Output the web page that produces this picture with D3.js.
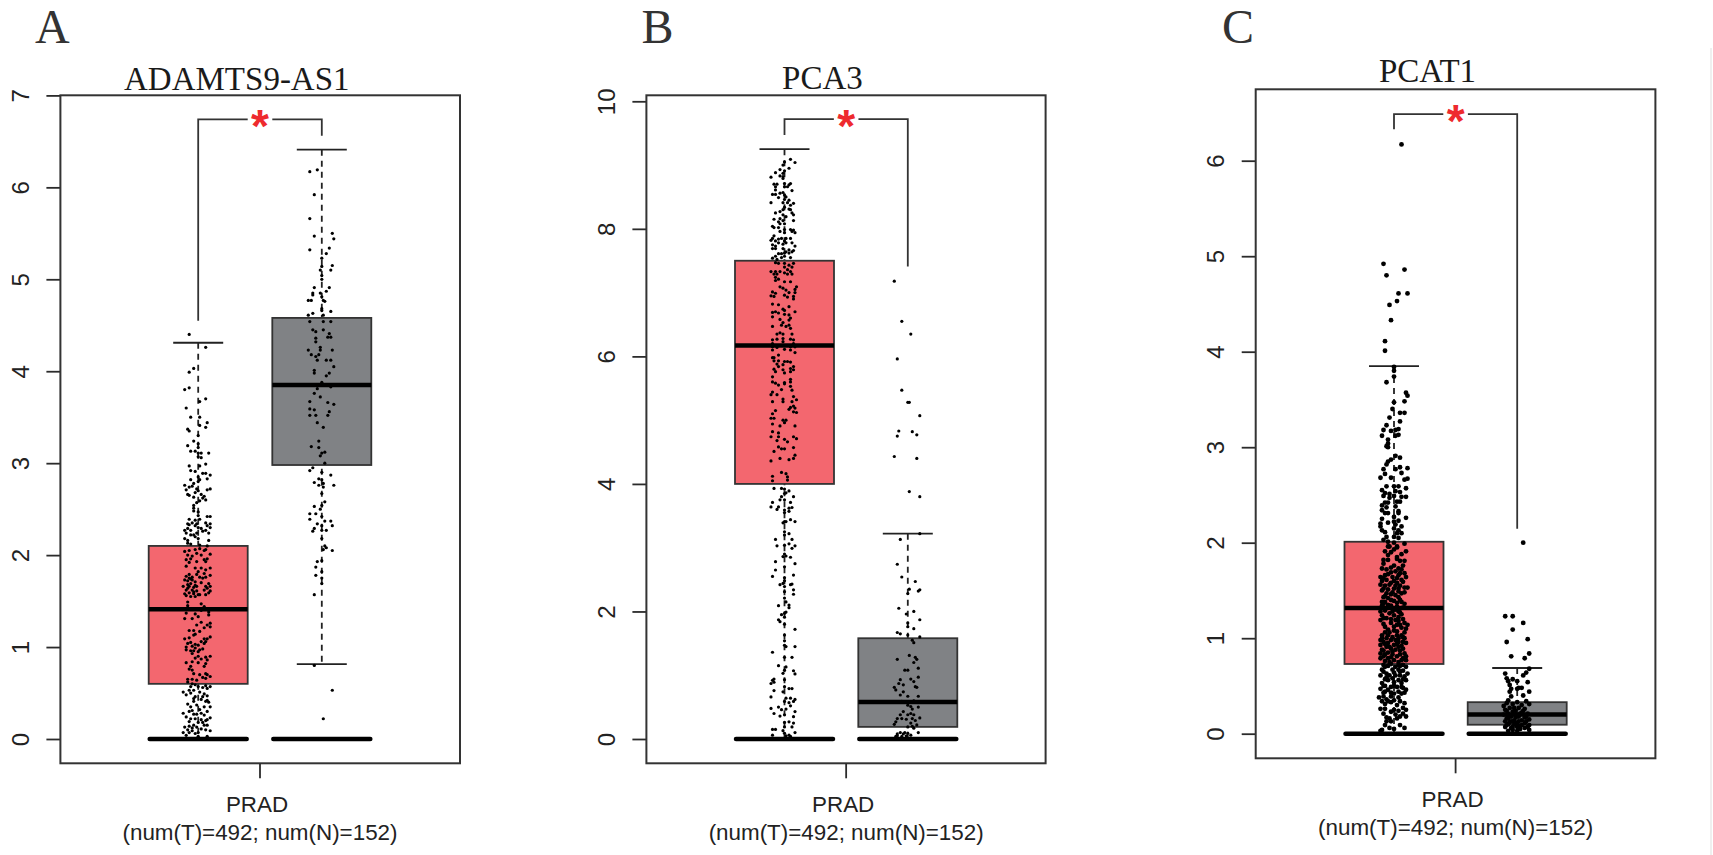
<!DOCTYPE html>
<html>
<head>
<meta charset="utf-8">
<title>PRAD boxplots</title>
<script src="https://cdn.jsdelivr.net/npm/d3@7"></script>
<style>
html, body { margin: 0; padding: 0; background: #fff; overflow: hidden; }
svg { display: block; }
</style>
</head>
<body>
<div id="chart"></div>
<script>
var svgWidth = 1713;
var svgHeight = 855;

var groups = ["T", "N"];
var categoryLabel = "PRAD";
var sampleLabel = "(num(T)=492; num(N)=152)";

// box stats per group: low whisker, q1, median, q3, high whisker
var adamtsBoxes = [[0, 0.60, 1.41, 2.10, 4.31], [0.815, 2.98, 3.85, 4.58, 6.41]];
var pca3Boxes = [[0, 4.00, 6.17, 7.50, 9.25], [0, 0.19, 0.58, 1.58, 3.22]];
var pcat1Boxes = [[0, 0.73, 1.316, 2.01, 3.85], [0, 0.094, 0.20, 0.33, 0.688]];

// bracket: top, end over T, end over N
var adamtsBracket = [6.74, 4.55, 6.56];
var pca3Bracket = [9.72, 9.47, 7.41];
var pcat1Bracket = [6.487, 6.33, 2.146];

var adamtsTicks = [0, 1, 2, 3, 4, 5, 6, 7];
var pca3Ticks = [0, 2, 4, 6, 8, 10];
var pcat1Ticks = [0, 1, 2, 3, 4, 5, 6];

// jittered samples: [jitter (-10..10), expression]
var adamtsT = [[-6,4.40],[5,4.26],[-6,3.99],[-3,4.03],[-9,3.80],[-6,3.82],[5,3.70],[1,3.67],[-8,3.60],[-5,3.50],[1,3.50],[6,3.44],[1,3.41],[5,3.39],[-7,3.37],[-6,3.35],[0,3.30],
[-3,3.24],[0,3.21],[-7,3.19],[0,3.17],[-5,3.13],[-2,3.13],[7,3.11],[0,3.11],[2,3.11],[0,3.07],[2,3.06],[-6,2.97],[5,2.99],[1,2.97],[-5,2.92],[-2,2.91],[3,2.89],[5,2.89],[8,2.87],[0,2.85],[6,2.83],[-5,2.82],[1,2.82],[0,2.80],[-3,2.78],[-9,2.76],[-6,2.74],[8,2.72],[6,2.71],[-8,2.71],[0,2.70],[-2,2.68],[2,2.66],[-6,2.65],[4,2.64],[-3,2.63],[5,2.60],[1,2.59],[-1,2.57],[-3,2.54],[-3,2.51],[-3,2.48],[0,2.47],[0,2.43],[6,2.42],[8,2.42],[-6,2.39],[-2,2.38],[1,2.39],[-4,2.35],[-1,2.34],[5,2.35],[8,2.34],[-6,2.33],[-2,2.32],[0,2.30],[6,2.32],[-7,2.29],[2,2.29],[-9,2.27],[-5,2.27],[8,2.30],[5,2.27],[-1,2.24],[-8,2.24],[-5,2.22],[7,2.24],[-2,2.20],[0,2.18],[-9,2.18],[-7,2.16],[7,2.16],[-7,2.13],[-5,2.12],[1,2.11],[6,2.10],
[-9,2.04],[-6,2.05],[-2,2.06],[1,2.07],[4,2.05],[5,2.06],[-7,2.00],[-4,1.99],[-1,2.02],[2,2.00],[8,2.01],[6,1.96],[4,1.95],[-8,1.95],[-5,1.96],[-6,1.92],[-1,1.93],[5,1.93],[-8,1.88],[-2,1.86],[2,1.86],[8,1.86],[5,1.84],[0,1.82],[4,1.80],[8,1.78],[-8,1.77],[-6,1.79],[-4,1.76],[1,1.76],[5,1.76],[-9,1.73],[-6,1.75],[-4,1.73],[-2,1.71],[-7,1.68],[-5,1.69],[-2,1.67],[7,1.69],[8,1.66],[-10,1.66],[-6,1.66],[-1,1.66],[5,1.66],[6,1.64],[-8,1.62],[-4,1.62],[-1,1.61],[4,1.62],[8,1.61],[-6,1.59],[-3,1.58],[7,1.59],[-9,1.58],[1,1.57],[5,1.57],[-5,1.55],[-2,1.55],[-7,1.49],[2,1.47],[4,1.44],[-7,1.45],[7,1.38],[2,1.40],
[-8,1.37],[-2,1.36],[-9,1.31],[-4,1.31],[0,1.33],[7,1.35],[8,1.26],[2,1.27],[-1,1.24],[6,1.24],[8,1.22],[4,1.21],[-6,1.18],[-3,1.18],[1,1.17],[-2,1.14],[8,1.11],[-9,1.09],[-6,1.10],[-3,1.13],[4,1.09],[6,1.09],[-7,1.04],[2,1.06],[4,1.04],[5,1.06],[-8,1.00],[-4,1.01],[-2,0.99],[1,0.97],[3,0.98],[-5,0.96],[-3,0.96],[0,0.95],[-8,0.97],[0,0.90],[5,0.89],[8,0.90],[-2,0.88],[2,0.87],[6,0.86],[-4,0.84],[-8,0.83],[0,0.83],[5,0.82],[-5,0.79],[4,0.79],[-6,0.76],[-4,0.75],[-3,0.71],[5,0.71],[8,0.68],[1,0.70],[3,0.67],[6,0.70],[-7,0.65],[-4,0.65],[-1,0.64],[5,0.66],
[-2,0.59],[-5,0.57],[5,0.58],[8,0.57],[0,0.57],[-6,0.53],[6,0.55],[-10,0.51],[-3,0.53],[1,0.51],[-8,0.48],[4,0.49],[6,0.47],[-2,0.46],[2,0.43],[-3,0.41],[5,0.41],[6,0.42],[-1,0.37],[8,0.35],[-5,0.35],[4,0.35],[1,0.32],[-4,0.31],[-10,0.28],[-6,0.30],[6,0.30],[-1,0.27],[4,0.26],[-8,0.24],[-5,0.22],[-2,0.22],[2,0.21],[6,0.21],[8,0.23],[5,0.20],[0,0.18],[-9,0.13],[-6,0.14],[-3,0.15],[4,0.15],[6,0.15],[-7,0.10],[-4,0.12],[-1,0.13],[8,0.09],[-10,0.07],[-6,0.07],[-2,0.06],[0,0.07],[5,0.10],[-8,0.04],[0,0.03],[6,0.03],
[-7,1.64],[-3,1.65],[2,1.70],[-7,1.72],[-3,1.60],[0,1.57],[-5,1.74],[3,1.75],[-8,1.56],[-1,1.79],[-5,1.05],[-2,1.03],[0,1.02],[-4,0.93],[-7,0.62],[-4,0.60],[3,0.56],[-5,0.50],[3,0.46],[-3,0.44],[7,0.40],[-7,0.38],[2,0.28],[-3,0.27],[-6,0.19],[3,0.18],[-4,0.09],[2,0.11],[-7,2.34],[3,2.26],[-3,2.22],[-4,2.75],[-1,2.72],[3,2.62],[-7,2.66]];

var adamtsN = [[-8,6.17],[-3,6.19],[-5,5.92],[-8,5.66],[-5,5.47],[7,5.50],[8,5.44],[5,5.34],[3,5.28],[-8,5.32],[0,5.23],[0,5.14],[7,5.15],[-1,5.10],[6,5.10],[0,5.04],[0,5.00],[-5,4.91],[5,4.91],[-6,4.85],[-1,4.85],[3,4.87],[0,4.81],[-6,4.83],[1,4.77],[-9,4.77],[-7,4.77],[2,4.76],[0,4.68],[0,4.66],[6,4.65],[-6,4.63],[-9,4.61],[1,4.61],
[-8,4.54],[1,4.54],[6,4.54],[-6,4.45],[-4,4.43],[1,4.45],[5,4.41],[4,4.37],[6,4.37],[-4,4.36],[-4,4.32],[-1,4.26],[-1,4.23],[-9,4.23],[7,4.23],[-7,4.18],[-2,4.18],[-4,4.16],[-3,4.12],[3,4.12],[6,4.12],[8,4.05],[-5,4.01],[5,3.98],[3,3.95],[-5,3.98],[0,3.88],[6,3.83],[-3,3.81],[-5,3.76],[-1,3.72],[-8,3.67],[4,3.66],[8,3.64],[-8,3.59],[-5,3.58],[5,3.56],[-8,3.52],[-4,3.52],[4,3.52],[-3,3.44],[1,3.39],
[-2,3.24],[-7,3.18],[-2,3.17],[2,3.12],[0,3.11],[-1,3.08],[2,3.00],[-6,2.95],[-8,2.92],[0,2.90],[6,2.87],[-2,2.83],[0,2.82],[-5,2.79],[8,2.76],[1,2.78],[-2,2.76],[1,2.74],[0,2.67],[2,2.58],[0,2.54],[-5,2.53],[-1,2.50],[-8,2.45],[-4,2.45],[0,2.42],[-8,2.39],[2,2.37],[6,2.37],[-3,2.34],[0,2.32],[7,2.32],[-5,2.29],[3,2.27],[-6,2.26],[0,2.27],[0,2.18],[2,2.10],[3,2.08],[1,2.06],[7,2.05],[-3,1.93],[0,1.94],[-4,1.87],[0,1.82],[-4,1.78],[0,1.75],[0,1.69],[-5,1.57],[-5,0.80],[7,0.53],[1,0.22]];

var pca3T = [[4,9.09],[7,9.04],[0,9.05],[-1,9.00],[3,8.95],[0,8.91],[-3,8.93],[-6,8.88],[-1,8.87],[-3,8.83],[-1,8.82],[-9,8.81],[-1,8.79],[-7,8.70],[-5,8.70],[0,8.71],[3,8.69],[4,8.71],[-6,8.66],[0,8.66],[2,8.66],[-6,8.61],[5,8.60],[-1,8.57],[-8,8.54],[-6,8.54],[-3,8.56],[0,8.53],[-4,8.49],[1,8.50],[0,8.46],[3,8.45],[-9,8.41],[-1,8.41],[2,8.41],[6,8.40],[4,8.37],[0,8.34],[3,8.31],[-1,8.30],[4,8.30],[-6,8.25],[-3,8.27],[5,8.25],[6,8.22],[-1,8.22],[1,8.19],[-3,8.16],[-7,8.15],[6,8.13],[-4,8.11],[-1,8.13],[0,8.08],[-3,8.08],[-8,8.04],[-4,8.02],[-7,8.02],[0,7.99],[4,7.99],[6,7.98],[-3,7.96],[5,7.96],[7,7.94],[0,7.94],[-7,7.89],[-8,7.85],[-4,7.84],[-2,7.85],[1,7.85],[4,7.85],[-9,7.82],[-6,7.81],[0,7.81],[-4,7.78],[1,7.78],[5,7.78],[-8,7.75],[-1,7.76],[-6,7.73],[7,7.73],[-8,7.69],[-6,7.69],[-1,7.69],[3,7.67],[6,7.66],[1,7.64],[5,7.64],[0,7.62],[-2,7.61],[3,7.62],[-4,7.61],[-6,7.57],[0,7.57],[-8,7.54],[-2,7.55],[4,7.55],[-5,7.52],
[-6,7.47],[0,7.46],[6,7.46],[3,7.43],[-4,7.46],[0,7.40],[5,7.40],[2,7.36],[-9,7.33],[-6,7.33],[-3,7.33],[4,7.33],[0,7.31],[-7,7.29],[-5,7.29],[2,7.29],[5,7.29],[-6,7.24],[-4,7.21],[-6,7.19],[0,7.17],[4,7.17],[-3,7.09],[-1,7.07],[8,7.09],[1,7.04],[7,7.05],[-8,7.01],[-6,6.99],[3,7.00],[7,7.00],[-9,6.95],[0,6.96],[6,6.94],[-7,6.94],[2,6.93],[6,6.90],[-8,6.82],[-4,6.81],[3,6.78],[-1,6.74],[0,6.72],[-8,6.69],[-6,6.70],[-4,6.68],[7,6.70],[0,6.66],[3,6.65],[-8,6.62],[4,6.60],[-3,6.58],[3,6.57],[-1,6.53],[3,6.49],[-2,6.49],[-8,6.47],[1,6.47],[4,6.44],[-3,6.37],[-5,6.35],[-1,6.35],[5,6.35],[-8,6.26],[-1,6.28],[-5,6.27],[4,6.27],[6,6.26],[-8,6.20],[-1,6.23],[6,6.20],[-8,6.15],[-5,6.14],[4,6.15],[7,6.15],[0,6.11],[-8,6.10],[4,6.10],[7,6.06],[-4,6.02],[-8,5.98],[-7,5.98],[-7,5.93],[-4,5.93],[0,5.92],[2,5.92],[4,5.91],[-5,5.88],[-1,5.87],[-4,5.84],[6,5.84],[4,5.81],[-7,5.80],[-1,5.79],[6,5.79],[-6,5.76],[4,5.76],[0,5.74],[-8,5.68],[4,5.64],[-8,5.60],[-6,5.58],[0,5.59],[4,5.60],[-4,5.55],[-2,5.48],[4,5.53],[5,5.47],[0,5.57],[-8,5.44],[-9,5.40],[-5,5.40],[-1,5.33],[6,5.37],[8,5.32],[-8,5.29],[-1,5.29],[5,5.29],[6,5.22],[4,5.20],[3,5.17],[7,5.19],[-6,5.15],[6,5.13],[8,5.12],[-8,5.10],[-9,5.03],[-7,5.03],[-1,5.00],[1,5.00],[-8,4.94],[-3,4.91],[0,4.96],[7,4.91],[-4,4.80],[-8,4.82],[-9,4.74],[-4,4.74],[6,4.74],[8,4.71],[-5,4.68],[0,4.70],[2,4.66],[-4,4.58],[-2,4.55],[0,4.55],[6,4.57],
[-7,4.51],[7,4.45],[6,4.40],[3,4.38],[-3,4.40],[-9,4.36],[-2,4.18],[1,4.16],[-8,4.12],[2,4.11],[-8,4.05],[2,4.06],
[-7,3.93],[-2,3.93],[0,3.92],[3,3.89],[1,3.86],[0,3.85],[6,3.80],[-2,3.80],[-3,3.75],[0,3.75],[-8,3.71],[4,3.71],[-4,3.64],[-9,3.64],[0,3.59],[5,3.63],[3,3.62],[-5,3.60],[3,3.57],[0,3.55],[4,3.44],[0,3.41],[1,3.41],[-1,3.39],[7,3.41],[0,3.25],[3,3.22],[0,3.20],[-6,3.13],[5,3.13],[0,3.04],[3,3.06],[-5,3.03],[7,3.03],[5,2.99],[0,2.90],[1,2.87],[-1,2.86],[4,2.85],[-6,2.78],[7,2.75],[0,2.70],[-6,2.65],[6,2.57],[-8,2.55],[0,2.53],[0,2.48],[-1,2.44],[-3,2.42],[4,2.42],[5,2.43],[0,2.39],[6,2.34],[0,2.31],[6,2.27],
[0,2.21],[1,2.15],[-4,2.09],[3,2.10],[3,2.06],[1,1.99],[0,1.97],[-2,1.95],[-4,1.87],[-3,1.84],[0,1.91],[0,1.80],[7,1.72],[0,1.63],[0,1.54],[0,1.47],[1,1.45],[7,1.45],[-8,1.36],[0,1.28],[5,1.28],[-4,1.15],[1,1.13],[0,1.08],[6,1.07],[-1,1.03],[7,1.02],[-7,0.94],[-8,0.92],[-7,0.89],[-9,0.87],[0,0.93],[0,0.82],[3,0.79],[5,0.79],[-7,0.76],[-1,0.74],[-9,0.66],[1,0.64],[4,0.64],[7,0.62],[0,0.59],[6,0.59],[3,0.57],[4,0.52],[-9,0.48],[-4,0.50],[-2,0.46],[1,0.47],[7,0.43],[-7,0.40],[-3,0.36],[0,0.38],[6,0.35],[0,0.26],[3,0.27],[6,0.25],[5,0.19],[0,0.19],[-8,0.15],[-6,0.15],[-1,0.13],[7,0.10],[0,0.09],[-8,0.06],[3,0.06],[1,0.05],[4,0.04]];

var pca3N = [[-9,7.18],[-4,6.55],[2,6.35],[-7,5.96],[-4,5.47],[0,5.28],[1,5.28],[8,5.07],[-6,4.83],[-7,4.75],[3,4.82],[6,4.77],[-9,4.43],[6,4.40],[1,3.88],[8,3.80],[-5,3.13],[8,3.22],[-7,2.74],[-4,2.54],[5,2.47],[1,2.35],[8,2.34],[7,2.32],[0,2.28],[-6,2.05],[4,2.00],[-1,1.96],[8,1.87],[0,1.82],[0,1.76],[4,1.73],[-7,1.67],[-5,1.65],[0,1.63],[8,1.60],[3,1.55],[4,1.51],[1,1.31],[-7,1.25],[5,1.28],[6,1.25],[4,1.20],[-2,1.08],[0,1.08],[7,1.11],[-5,0.93],[-3,0.85],[2,0.94],[7,0.97],[-6,0.87],[4,0.90],[-3,0.74],[-9,0.81],[-8,0.77],[5,0.82],[6,0.81],[-5,0.69],[0,0.67],[7,0.67],[-4,0.59],[4,0.60],[0,0.53],[2,0.51],[7,0.50],[3,0.47],[-3,0.43],[2,0.40],[-5,0.38],[0,0.38],[4,0.38],[-7,0.32],[-4,0.32],[-1,0.31],[3,0.32],[8,0.33],[-8,0.27],[-9,0.23],[5,0.29],[2,0.25],[3,0.20],[0,0.19],[6,0.22],[4,0.17],[-5,0.10],[-2,0.10],[0,0.09],[-7,0.08],[-3,0.08],[7,0.10],[-7,0.05],[-1,0.05],[-4,0.04],[-8,0.04],[2,0.06]];

var pcat1T = [[5,6.17],[-7,4.92],[-5,4.80],[7,4.86],[3,4.61],[9,4.61],[2,4.53],[-3,4.49],[-2,4.33],[-6,4.11],[-6,4.01],
[0,3.84],[0,3.80],[0,3.74],[-5,3.68],[8,3.57],[9,3.54],[0,3.47],[7,3.48],[-1,3.40],[4,3.36],[7,3.36],[-3,3.31],[4,3.27],[-5,3.23],[-7,3.18],[-2,3.17],[1,3.18],[3,3.19],[-8,3.12],[1,3.12],[3,3.13],[-4,3.08],[-4,3.04],[-5,3.01],[-4,3.00],[1,2.91],[4,2.89],[-2,2.87],[-4,2.85],[-5,2.82],[-7,2.77],[1,2.77],[4,2.79],[9,2.78],[-6,2.72],[5,2.73],[-9,2.68],[-2,2.68],[7,2.66],[9,2.67],[0,2.59],[3,2.59],[-5,2.59],[8,2.57],[-8,2.55],[1,2.54],[4,2.53],[-6,2.52],[-3,2.51],[-7,2.49],[0,2.49],[5,2.48],[8,2.48],[-3,2.47],[-6,2.42],[2,2.43],[4,2.43],[-4,2.42],[-8,2.39],[1,2.38],[-5,2.37],[-8,2.34],[3,2.33],[-6,2.31],[3,2.31],[-4,2.31],[0,2.27],[8,2.26],[-8,2.25],[-9,2.20],[-4,2.21],[0,2.22],[3,2.23],[1,2.19],[5,2.17],[-9,2.17],[0,2.15],[3,2.13],[-8,2.13],[-6,2.11],[5,2.10],[2,2.10],[-5,2.06],[0,2.06],[-7,2.03],[3,2.05],[-4,2.01],[7,1.99],[0,2.00],[-3,1.96],[2,1.96],
[-4,1.96],[2,1.95],[8,1.91],[-6,1.91],[0,1.93],[-4,1.87],[4,1.81],[7,1.81],[-7,1.82],[-4,1.82],[2,1.83],[-8,1.73],[-2,1.74],[3,1.73],[5,1.72],[-5,1.72],[1,1.70],[7,1.68],[-9,1.64],[-6,1.66],[-4,1.67],[-1,1.64],[3,1.66],[8,1.64],[-8,1.60],[-5,1.61],[0,1.60],[2,1.58],[5,1.61],[-9,1.56],[-2,1.58],[-6,1.55],[4,1.55],[7,1.53],[9,1.53],[-8,1.50],[-4,1.51],[0,1.52],[3,1.49],[-5,1.47],[-2,1.46],[5,1.47],[-7,1.43],[1,1.45],[-4,1.42],[3,1.43],[-8,1.38],[-6,1.38],[0,1.39],[5,1.38],[2,1.37],[-4,1.35],[-2,1.34],[7,1.36],[-8,1.34],[-6,1.29],[1,1.30],[3,1.28],[-9,1.28],[-3,1.26],[-8,1.24],[0,1.24],[5,1.25],[3,1.22],[-5,1.21],[1,1.19],[-9,1.19],[7,1.16],[9,1.14],[2,1.14],[4,1.14],[-2,1.16],[-6,1.12],[-4,1.09],[0,1.08],[7,1.06],[-6,1.06],[-8,1.03],[-4,1.03],[2,1.03],[5,1.03],[-5,1.00],[7,1.00],[-9,0.98],[-2,0.98],[1,0.98],[3,0.96],[-7,0.96],[-4,0.95],[6,0.96],[8,0.95],[-9,0.93],[0,0.93],[-5,0.91],[3,0.91],[-2,0.89],[-8,0.88],[1,0.88],[6,0.89],[-9,0.84],[-4,0.85],[-6,0.83],[-1,0.83],[4,0.83],[7,0.84],[2,0.81],[-9,0.79],[-4,0.79],[6,0.79],[8,0.77],[0,0.77],[-6,0.76],[3,0.75],[-3,0.75],
[-6,0.70],[-4,0.71],[1,0.70],[4,0.71],[8,0.70],[-8,0.67],[-1,0.67],[3,0.67],[6,0.66],[-5,0.63],[9,0.63],[-9,0.61],[-3,0.61],[1,0.61],[4,0.61],[7,0.60],[-6,0.57],[-4,0.56],[3,0.56],[8,0.56],[-8,0.53],[0,0.54],[5,0.53],[-6,0.50],[-2,0.49],[2,0.49],[-9,0.47],[6,0.48],[8,0.46],[-4,0.46],[-6,0.44],[3,0.44],[0,0.42],[5,0.42],[-10,0.38],[-7,0.39],[-2,0.39],[3,0.38],[-5,0.36],[0,0.35],[-8,0.34],[-2,0.33],[7,0.32],[-6,0.31],[2,0.30],[-9,0.26],[8,0.25],[0,0.25],[3,0.24],[-7,0.21],[1,0.20],[6,0.21],[8,0.18],[4,0.18],[-3,0.16],[-5,0.13],[-2,0.13],[4,0.09],[-6,0.09],[7,0.06],[-3,0.06],[-8,0.04],[0,0.05],[-9,0.03],
[-2,1.90],[5,1.88],[2,1.85],[-7,1.78],[0,1.76],[6,1.76],[-2,1.69],[4,1.68],[-7,1.63],[2,1.63],[6,1.59],[-3,1.56],[1,1.55],[-7,1.52],[3,1.52],[-1,1.48],[7,1.48],[-6,1.44],[4,1.40],[-2,1.40],[-7,1.36],[2,1.33],[6,1.32],[-1,1.28],[4,1.27],[-7,1.21],[-2,1.20],[3,1.18],[6,1.20],[-7,1.15],[0,1.12],[5,1.11],[-3,1.06],[2,1.07],[8,1.10],[-8,1.00],[-1,1.01],[3,1.00],[6,1.01],[-6,0.94],[-3,0.91],[2,0.94],[5,0.92],[-7,0.87],[-1,0.86],[4,0.87],[-7,0.81],[-2,0.80],[5,0.77],[8,0.81],[-7,0.72],[-2,0.73],[3,0.72],[6,0.72],[-7,0.65],[0,0.64],[4,0.65],[-5,0.59],[-1,0.58],[6,0.57],[-7,0.50],[0,0.50],[5,0.49],[-7,0.43],[-2,0.43],[7,0.43],[-4,0.34],[4,0.34],[-6,0.26],[-2,0.23],[6,0.27],[-5,0.17],[2,0.16]];

var pcat1N = [[4,2.00],[-8,1.23],[-3,1.23],[4,1.16],[-3,1.09],[7,0.99],[-7,0.96],[8,0.84],[-4,0.81],[5,0.79],[8,0.68],[6,0.64],[-8,0.63],[4,0.61],[-7,0.58],[-3,0.57],[-6,0.55],[0,0.55],[7,0.54],[-5,0.51],[3,0.48],[-4,0.47],[0,0.47],[8,0.44],[-5,0.44],[1,0.48],[4,0.40],[-4,0.39],[-6,0.35],[6,0.34],[-7,0.32],[-3,0.31],[0,0.33],[3,0.30],[8,0.31],[-9,0.29],[-5,0.27],[-2,0.27],[1,0.27],[5,0.26],[-8,0.25],[-3,0.23],[-6,0.21],[3,0.22],[7,0.21],[0,0.20],[-9,0.20],[-4,0.18],[1,0.18],[5,0.17],[-6,0.16],[8,0.15],[-2,0.14],[3,0.14],[-8,0.13],[-4,0.13],[1,0.13],[6,0.13],[-6,0.10],[-2,0.10],[3,0.09],[8,0.09],[0,0.07],[-8,0.07],[-4,0.06],[5,0.06],[2,0.05],[-3,0.04],[-6,0.03],[8,0.04],[0,0.03],
[-7,0.24],[-1,0.24],[4,0.24],[-5,0.19],[2,0.21],[-7,0.16],[-1,0.17],[6,0.18],[-5,0.12],[0,0.11],[5,0.11],[-7,0.09],[-3,0.07],[2,0.08],[7,0.07]];

var tumorColor = "#f3676f";
var normalColor = "#808285";
var inkColor = "#2b2b2b";
var sansFont = "'Liberation Sans', Arial, sans-serif";
var serifFont = "'Liberation Serif', 'Times New Roman', serif";

var svg = d3.select("#chart").append("svg")
    .attr("width", svgWidth)
    .attr("height", svgHeight);

// faint edge left over at the right of the scan
svg.append("line")
    .attr("x1", 1711).attr("x2", 1711)
    .attr("y1", 48).attr("y2", svgHeight)
    .attr("stroke", "#efefef").attr("stroke-width", 2);

function drawPanel(p) {
    var g = svg.append("g");

    var y = d3.scaleLinear()
        .domain([0, p.ticks[p.ticks.length - 1]])
        .range([p.y0, p.yMax]);
    var x = d3.scalePoint()
        .domain(groups)
        .range(p.centers);
    var jitter = d3.scaleLinear()
        .domain([-10, 10])
        .range([-15, 15]);
    var boxHalf = 49.5;
    var capHalf = 25;

    // panel letter and title
    g.append("text").attr("x", p.letterX).attr("y", 43)
        .attr("font-family", serifFont).attr("font-size", 48).attr("fill", "#333")
        .text(p.letter);
    g.append("text").attr("x", p.titleX).attr("y", p.titleY)
        .attr("text-anchor", "middle")
        .attr("font-family", serifFont).attr("font-size", 33).attr("fill", "#1a1a1a")
        .text(p.title);

    // y axis with rotated labels, like base R
    var axis = g.append("g")
        .attr("transform", "translate(" + p.left + ",0)")
        .call(d3.axisLeft(y).tickValues(p.ticks).tickSize(14).tickFormat(d3.format("d")));
    axis.select(".domain").remove();
    axis.selectAll("line").attr("stroke", inkColor).attr("stroke-width", 1.8);
    axis.selectAll("text")
        .attr("transform", "rotate(-90)")
        .attr("x", 0).attr("y", -31.5).attr("dy", 0)
        .attr("text-anchor", "middle")
        .attr("font-family", sansFont).attr("font-size", 24).attr("fill", "#222");

    // whiskers first so boxes sit on top
    p.boxes.forEach(function(b, i) {
        var c = x(groups[i]);
        g.append("line")
            .attr("x1", c).attr("x2", c)
            .attr("y1", y(b[4])).attr("y2", y(b[0]))
            .attr("stroke", "#222").attr("stroke-width", 1.8)
            .attr("stroke-dasharray", "6,5");
        g.append("line")
            .attr("x1", c - capHalf).attr("x2", c + capHalf)
            .attr("y1", y(b[4])).attr("y2", y(b[4]))
            .attr("stroke", "#222").attr("stroke-width", 1.8);
        if (b[0] > 0) {
            g.append("line")
                .attr("x1", c - capHalf).attr("x2", c + capHalf)
                .attr("y1", y(b[0])).attr("y2", y(b[0]))
                .attr("stroke", "#222").attr("stroke-width", 1.8);
        }
        g.append("rect")
            .attr("x", c - boxHalf).attr("width", boxHalf * 2)
            .attr("y", y(b[3])).attr("height", y(b[1]) - y(b[3]))
            .attr("fill", i === 0 ? tumorColor : normalColor)
            .attr("stroke", "#333").attr("stroke-width", 1.8);
        g.append("line")
            .attr("x1", c - boxHalf).attr("x2", c + boxHalf)
            .attr("y1", y(b[2])).attr("y2", y(b[2]))
            .attr("stroke", "#000").attr("stroke-width", 4.5);
        g.append("line")
            .attr("x1", c - boxHalf + 1).attr("x2", c + boxHalf - 1)
            .attr("y1", y(0)).attr("y2", y(0))
            .attr("stroke", "#000").attr("stroke-width", 4.5)
            .attr("stroke-linecap", "round");
    });

    // jittered samples
    p.points.forEach(function(pts, i) {
        var c = x(groups[i]);
        g.append("g").selectAll("circle").data(pts).enter().append("circle")
            .attr("cx", d => c + jitter(d[0]))
            .attr("cy", d => y(d[1]))
            .attr("r", p.dot)
            .attr("fill", "#000");
    });

    // frame
    g.append("rect")
        .attr("x", p.left).attr("y", p.top)
        .attr("width", p.right - p.left).attr("height", p.bottom - p.top)
        .attr("fill", "none").attr("stroke", "#333").attr("stroke-width", 2);

    // significance bracket
    var mid = (p.centers[0] + p.centers[1]) / 2;
    var gap = 12.3;
    var br = p.bracket;
    var bracketPath = d3.path();
    bracketPath.moveTo(p.centers[0], y(br[1]));
    bracketPath.lineTo(p.centers[0], y(br[0]));
    bracketPath.lineTo(mid - gap, y(br[0]));
    bracketPath.moveTo(mid + gap, y(br[0]));
    bracketPath.lineTo(p.centers[1], y(br[0]));
    bracketPath.lineTo(p.centers[1], y(br[2]));
    g.append("path").attr("d", bracketPath.toString())
        .attr("fill", "none").attr("stroke", "#333").attr("stroke-width", 1.8);
    g.append("text")
        .attr("x", mid).attr("y", y(br[0]) + 23)
        .attr("text-anchor", "middle")
        .attr("font-family", sansFont).attr("font-size", 46).attr("font-weight", "bold").attr("fill", "#ee2a2e")
        .text("*");

    // x tick and labels
    g.append("line")
        .attr("x1", mid).attr("x2", mid)
        .attr("y1", p.bottom).attr("y2", p.bottom + 15)
        .attr("stroke", inkColor).attr("stroke-width", 1.8);
    g.append("text")
        .attr("x", mid - 3).attr("y", p.bottom + 49)
        .attr("text-anchor", "middle")
        .attr("font-family", sansFont).attr("font-size", 22.4).attr("fill", "#222")
        .text(categoryLabel);
    g.append("text")
        .attr("x", mid).attr("y", p.bottom + 77)
        .attr("text-anchor", "middle")
        .attr("font-family", sansFont).attr("font-size", 22.4).attr("fill", "#222")
        .text(sampleLabel);
}

drawPanel({
    letter: "A", letterX: 35, title: "ADAMTS9-AS1", titleX: 236.8, titleY: 90,
    left: 60.4, right: 460, top: 95.3, bottom: 763.3, y0: 739, yMax: 95.4,
    centers: [198.2, 321.8], ticks: adamtsTicks, boxes: adamtsBoxes,
    bracket: adamtsBracket, points: [adamtsT, adamtsN], dot: 1.6
});
drawPanel({
    letter: "B", letterX: 641.6, title: "PCA3", titleX: 822.4, titleY: 89,
    left: 646.4, right: 1045.6, top: 95.3, bottom: 763.3, y0: 739, yMax: 101.3,
    centers: [784.5, 907.8], ticks: pca3Ticks, boxes: pca3Boxes,
    bracket: pca3Bracket, points: [pca3T, pca3N], dot: 1.6
});
drawPanel({
    letter: "C", letterX: 1222, title: "PCAT1", titleX: 1427.5, titleY: 81.7,
    left: 1255.7, right: 1655.4, top: 89.3, bottom: 758.3, y0: 733.7, yMax: 160.7,
    centers: [1394, 1517.2], ticks: pcat1Ticks, boxes: pcat1Boxes,
    bracket: pcat1Bracket, points: [pcat1T, pcat1N], dot: 2.4
});
</script>
</body>
</html>
